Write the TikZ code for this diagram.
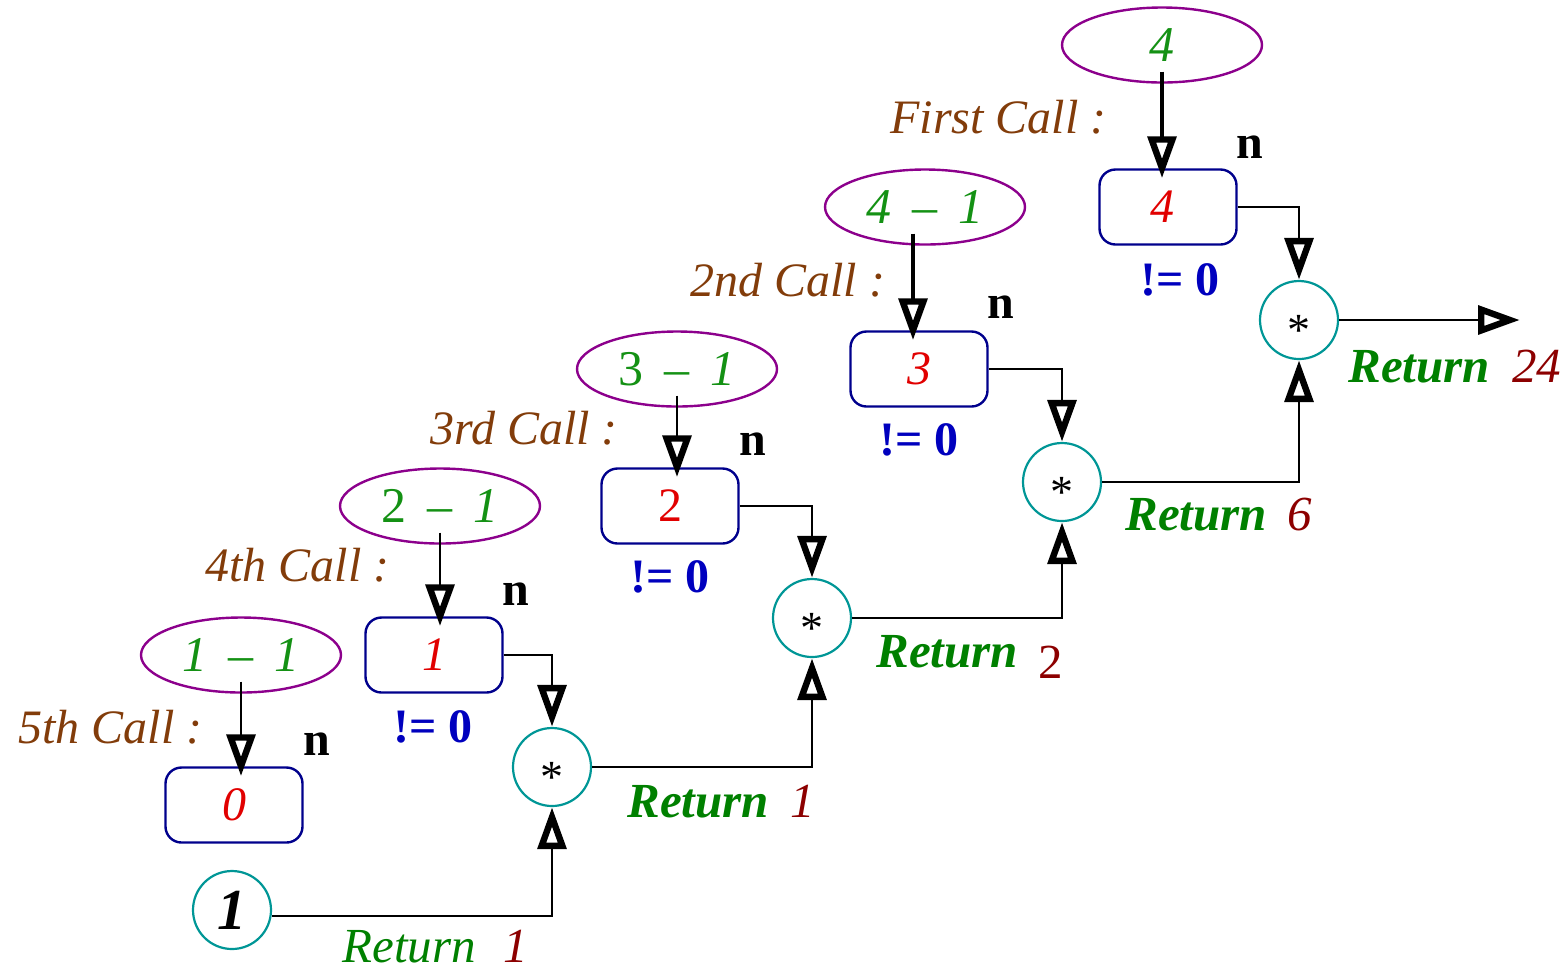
\documentclass[tikz,border=0pt]{standalone}
\usepackage{fontspec}
\setmainfont{Liberation Serif}
\usetikzlibrary{arrows.meta,shapes.geometric}
\definecolor{cgreen}{RGB}{20,145,20}
\definecolor{rgreen}{RGB}{0,128,0}
\definecolor{cbrown}{RGB}{130,60,10}
\definecolor{cred}{RGB}{225,0,0}
\definecolor{cdred}{RGB}{140,0,0}
\definecolor{cnavy}{RGB}{0,0,140}
\definecolor{cblue}{RGB}{0,0,190}
\definecolor{cpurple}{RGB}{140,0,140}
\definecolor{cteal}{RGB}{0,150,150}
\newcommand{\lowstar}{\smash{\raisebox{-0.55em}{*}}}
\begin{document}
\begin{tikzpicture}[x=0.5pt,y=-0.5pt,
  ell/.style={ellipse, draw=cpurple, line width=1.2pt, minimum width=100pt, minimum height=37.5pt, inner sep=0pt, font=\fontsize{25}{25}\selectfont\itshape, text=cgreen},
  valbox/.style={rectangle, rounded corners=8pt, draw=cnavy, line width=1.2pt, minimum width=68.5pt, minimum height=37.5pt, inner sep=0pt, font=\fontsize{24}{24}\selectfont\itshape, text=cred},
  mul/.style={circle, draw=cteal, line width=1.1pt, minimum size=39pt, inner sep=0pt, font=\fontsize{23}{23}\selectfont},
  calllab/.style={anchor=base west, inner sep=0pt, text=cbrown, font=\fontsize{24}{24}\selectfont\itshape},
  nlab/.style={anchor=base, inner sep=0pt, font=\fontsize{24}{24}\selectfont\bfseries},
  nelab/.style={anchor=base west, inner sep=0pt, text=cblue, font=\fontsize{24}{24}\selectfont\bfseries},
  retlab/.style={anchor=base west, inner sep=0pt, text=rgreen, font=\fontsize{24.5}{24.5}\selectfont\bfseries\itshape},
  retval/.style={anchor=base west, inner sep=0pt, text=cdred, font=\fontsize{24.5}{24.5}\selectfont\itshape},
  bigtip/.tip={Triangle[open, length=21pt, width=14pt, line width=3.2pt]},
  callarrow/.style={line width=1.3pt, -bigtip, shorten <=-6pt, shorten >=-5pt},
  conn/.style={line width=1.1pt, -bigtip},
]
\useasboundingbox (0,0) rectangle (1567,971);

% ellipses
\node[ell] (E4) at (1162,45) {4};
\node[ell] (E3) at (925,207) {4 \,–\, 1};
\node[ell] (E2) at (677,369) {{\upshape 3} \,–\, 1};
\node[ell] (E1) at (440,506) {{\upshape 2} \,–\, 1};
\node[ell] (E0) at (241,655) {1 \,–\, 1};

% boxes
\node[valbox] (B4) at (1168,207) {\hspace*{-6pt}4};
\node[valbox] (B3) at (919,369) {3};
\node[valbox] (B2) at (670,506) {\upshape 2};
\node[valbox] (B1) at (434,655) {1};
\node[valbox] (B0) at (234,805) {0};

% multiply circles
\node[mul] (C4) at (1299,320) {\lowstar};
\node[mul] (C3) at (1062,482) {\lowstar};
\node[mul] (C2) at (812,618) {\lowstar};
\node[mul] (C1) at (552,767) {\lowstar};
\node[mul, font=\fontsize{29}{29}\selectfont\bfseries\itshape] (C0) at (232,910) {1};
\coordinate (out) at (1520,320);

% call arrows
\draw[callarrow, line width=2.4pt] (E4.south) -- (E4.south |- B4.north);
\draw[callarrow, line width=2.4pt] ([xshift=-6pt]E3.south) -- ([xshift=-3pt]B3.north);
\draw[callarrow] (E2.south) -- (E2.south |- B2.north);
\draw[callarrow] (E1.south) -- (E1.south |- B1.north);
\draw[callarrow] (E0.south) -- (E0.south |- B0.north);

% box to multiply
\draw[conn] (B4.east) -| (C4.north);
\draw[conn] (B3.east) -| (C3.north);
\draw[conn] (B2.east) -| (C2.north);
\draw[conn] (B1.east) -| (C1.north);

% returns
\draw[conn] ([yshift=-3pt]C0.east) -| (C1.south);
\draw[conn] (C1.east) -| (C2.south);
\draw[conn] (C2.east) -| (C3.south);
\draw[conn] (C3.east) -| (C4.south);
\draw[conn] (C4.east) -- (out);

% call labels
\node[calllab] (L4) at (890,133) {First Call :};
\node[calllab] (L3) at (690,296) {2nd Call :};
\node[calllab] (L2) at (430,444) {3rd Call :};
\node[calllab] (L1) at (205,581) {4th Call :};
\node[calllab] (L0) at (18,743) {5th Call :};

% n labels
\node[nlab] (N4) at (1250,158) {n};
\node[nlab] (N3) at (1001,318) {n};
\node[nlab] (N2) at (753,455) {n};
\node[nlab] (N1) at (516,605) {n};
\node[nlab] (N0) at (317,755) {n};

% != 0 labels
\node[nelab] (Z4) at (1140,295) {!= 0};
\node[nelab] (Z3) at (879,455) {!= 0};
\node[nelab] (Z2) at (630,592) {!= 0};
\node[nelab] (Z1) at (393,742) {!= 0};

% return labels
\node[retlab] (R4) at (1348,382) {Return};
\node[retval] (V4) at (1512,382) {24};
\node[retlab] (R3) at (1125,530) {Return};
\node[retval] (V3) at (1287,530) {6};
\node[retlab] (R2) at (876,667) {Return};
\node[retval, font=\fontsize{24.5}{24.5}\selectfont] (V2) at (1038,678) {2};
\node[retlab] (R1) at (627,817) {Return};
\node[retval] (V1) at (790,817) {1};
\node[retlab, font=\fontsize{24.5}{24.5}\selectfont\itshape] (R0) at (342,962) {Return};
\node[retval] (V0) at (503,962) {1};
\end{tikzpicture}
\end{document}
